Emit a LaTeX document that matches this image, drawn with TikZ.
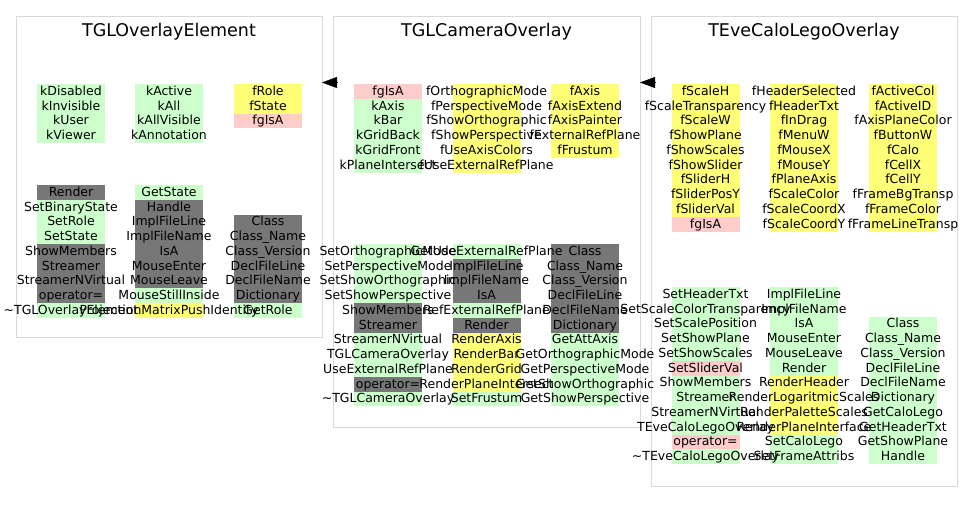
\documentclass[tikz,border=0pt]{standalone}
\usepackage{fontspec}
\setmainfont{DejaVu Sans}
\usepackage{tikz}
\usetikzlibrary{calc}
\usetikzlibrary{arrows.meta}
\definecolor{grn}{HTML}{CCFFCC}
\definecolor{yel}{HTML}{FFFF77}
\definecolor{pnk}{HTML}{FFCCCC}
\definecolor{gry}{HTML}{777777}
\pgfdeclarelayer{fills}
\pgfsetlayers{fills,main}
\begin{document}
\begin{tikzpicture}[x=1pt,y=-1pt,
 frame/.style={draw=black!15,line width=1pt,inner sep=0,outer sep=0,anchor=north west},
 title/.style={font=\fontsize{17.5}{20}\selectfont,anchor=base},
 cell/.style={anchor=north west,inner sep=0,outer sep=0,minimum height=14.75pt,
  text height=10.8pt,text depth=2.8pt,font=\fontsize{12.5}{15}\selectfont},
 inh/.style={-{Triangle[length=15pt,width=11pt]}}]
\useasboundingbox (0,0) rectangle (973,512);
\node[frame,minimum width=306pt,minimum height=321pt] (ovl) at (16,16) {};
\node[frame,minimum width=307pt,minimum height=411pt] (cam) at (333,16) {};
\node[frame,minimum width=306pt,minimum height=470pt] (lego) at (651,16) {};
\node[title] (ovl-t) at ($(ovl.north)+(0,20)$) {TGLOverlayElement};
\node[title] (cam-t) at ($(cam.north)+(0,20)$) {TGLCameraOverlay};
\node[title] (lego-t) at ($(lego.north)+(0,20)$) {TEveCaloLegoOverlay};
\path (0,82.5) coordinate (arr);
\draw[inh] ($(cam.west |- arr)+(4,0)$) -- (ovl.east |- arr);
\draw[inh] ($(lego.west |- arr)+(4,0)$) -- (cam.east |- arr);
\foreach \N/\X/\Y/\L in {
 ovl-a/37/84/{kDisabled/grn,kInvisible/grn,kUser/grn,kViewer/grn},
 ovl-b/135/84/{kActive/grn,kAll/grn,kAllVisible/grn,kAnnotation/grn},
 ovl-c/234/84/{fRole/yel,fState/yel,fgIsA/pnk},
 ovl-d/37/185/{Render/gry,SetBinaryState/grn,SetRole/grn,SetState/grn,ShowMembers/gry,
  Streamer/gry,StreamerNVirtual/gry,operator=/gry,{\textasciitilde}TGLOverlayElement/grn},
 ovl-e/135/185/{GetState/grn,Handle/gry,ImplFileLine/gry,ImplFileName/gry,IsA/gry,
  MouseEnter/gry,MouseLeave/gry,MouseStillInside/grn,ProjectionMatrixPushIdentity/yel},
 ovl-f/234/214.5/{Class/gry,Class\_Name/gry,Class\_Version/gry,DeclFileLine/gry,
  DeclFileName/gry,Dictionary/gry,GetRole/grn},
 cam-a/354/84/{fgIsA/pnk,kAxis/grn,kBar/grn,kGridBack/grn,kGridFront/grn,kPlaneIntersect/grn},
 cam-b/452.5/84/{fOrthographicMode/yel,fPerspectiveMode/yel,fShowOrthographic/yel,
  fShowPerspective/yel,fUseAxisColors/yel,fUseExternalRefPlane/yel},
 cam-c/551/84/{fAxis/yel,fAxisExtend/yel,fAxisPainter/yel,fExternalRefPlane/yel,fFrustum/yel},
 cam-d/354/244/{SetOrthographicMode/grn,SetPerspectiveMode/grn,SetShowOrthographic/grn,
  SetShowPerspective/grn,ShowMembers/gry,Streamer/gry,StreamerNVirtual/grn,
  TGLCameraOverlay/grn,UseExternalRefPlane/grn,operator=/gry,{\textasciitilde}TGLCameraOverlay/grn},
 cam-e/452.5/244/{GetUseExternalRefPlane/grn,ImplFileLine/gry,ImplFileName/gry,IsA/gry,
  RefExternalRefPlane/grn,Render/gry,RenderAxis/yel,RenderBar/yel,RenderGrid/yel,
  RenderPlaneIntersect/yel,SetFrustum/grn},
 cam-f/551/244/{Class/gry,Class\_Name/gry,Class\_Version/gry,DeclFileLine/gry,
  DeclFileName/gry,Dictionary/gry,GetAttAxis/grn,GetOrthographicMode/grn,
  GetPerspectiveMode/grn,GetShowOrthographic/grn,GetShowPerspective/grn},
 lego-a/671.5/84/{fScaleH/yel,fScaleTransparency/yel,fScaleW/yel,fShowPlane/yel,
  fShowScales/yel,fShowSlider/yel,fSliderH/yel,fSliderPosY/yel,fSliderVal/yel,fgIsA/pnk},
 lego-b/770/84/{fHeaderSelected/yel,fHeaderTxt/yel,fInDrag/yel,fMenuW/yel,fMouseX/yel,
  fMouseY/yel,fPlaneAxis/yel,fScaleColor/yel,fScaleCoordX/yel,fScaleCoordY/yel},
 lego-c/869/84/{fActiveCol/yel,fActiveID/yel,fAxisPlaneColor/yel,fButtonW/yel,fCalo/yel,
  fCellX/yel,fCellY/yel,fFrameBgTransp/yel,fFrameColor/yel,fFrameLineTransp/yel},
 lego-d/671.5/287/{SetHeaderTxt/grn,SetScaleColorTransparency/grn,SetScalePosition/grn,
  SetShowPlane/grn,SetShowScales/grn,SetSliderVal/pnk,ShowMembers/grn,Streamer/grn,
  StreamerNVirtual/grn,TEveCaloLegoOverlay/grn,operator=/pnk,{\textasciitilde}TEveCaloLegoOverlay/grn},
 lego-e/770/287/{ImplFileLine/grn,ImplFileName/grn,IsA/grn,MouseEnter/grn,MouseLeave/grn,
  Render/grn,RenderHeader/yel,RenderLogaritmicScales/yel,RenderPaletteScales/yel,
  RenderPlaneInterface/yel,SetCaloLego/grn,SetFrameAttribs/grn},
 lego-f/869/316.5/{Class/grn,Class\_Name/grn,Class\_Version/grn,DeclFileLine/grn,
  DeclFileName/grn,Dictionary/grn,GetCaloLego/grn,GetHeaderTxt/grn,GetShowPlane/grn,Handle/grn}}
{\foreach \T/\C [count=\i] in \L
 {\node[cell] (\N-\i) at (\X,{\Y+14.75*(\i-1)}) {\makebox[68pt]{\T}};
 \begin{pgfonlayer}{fills}
 \fill[\C] (\N-\i.north west) rectangle (\N-\i.south east);
 \end{pgfonlayer}}}
\end{tikzpicture}
\end{document}
